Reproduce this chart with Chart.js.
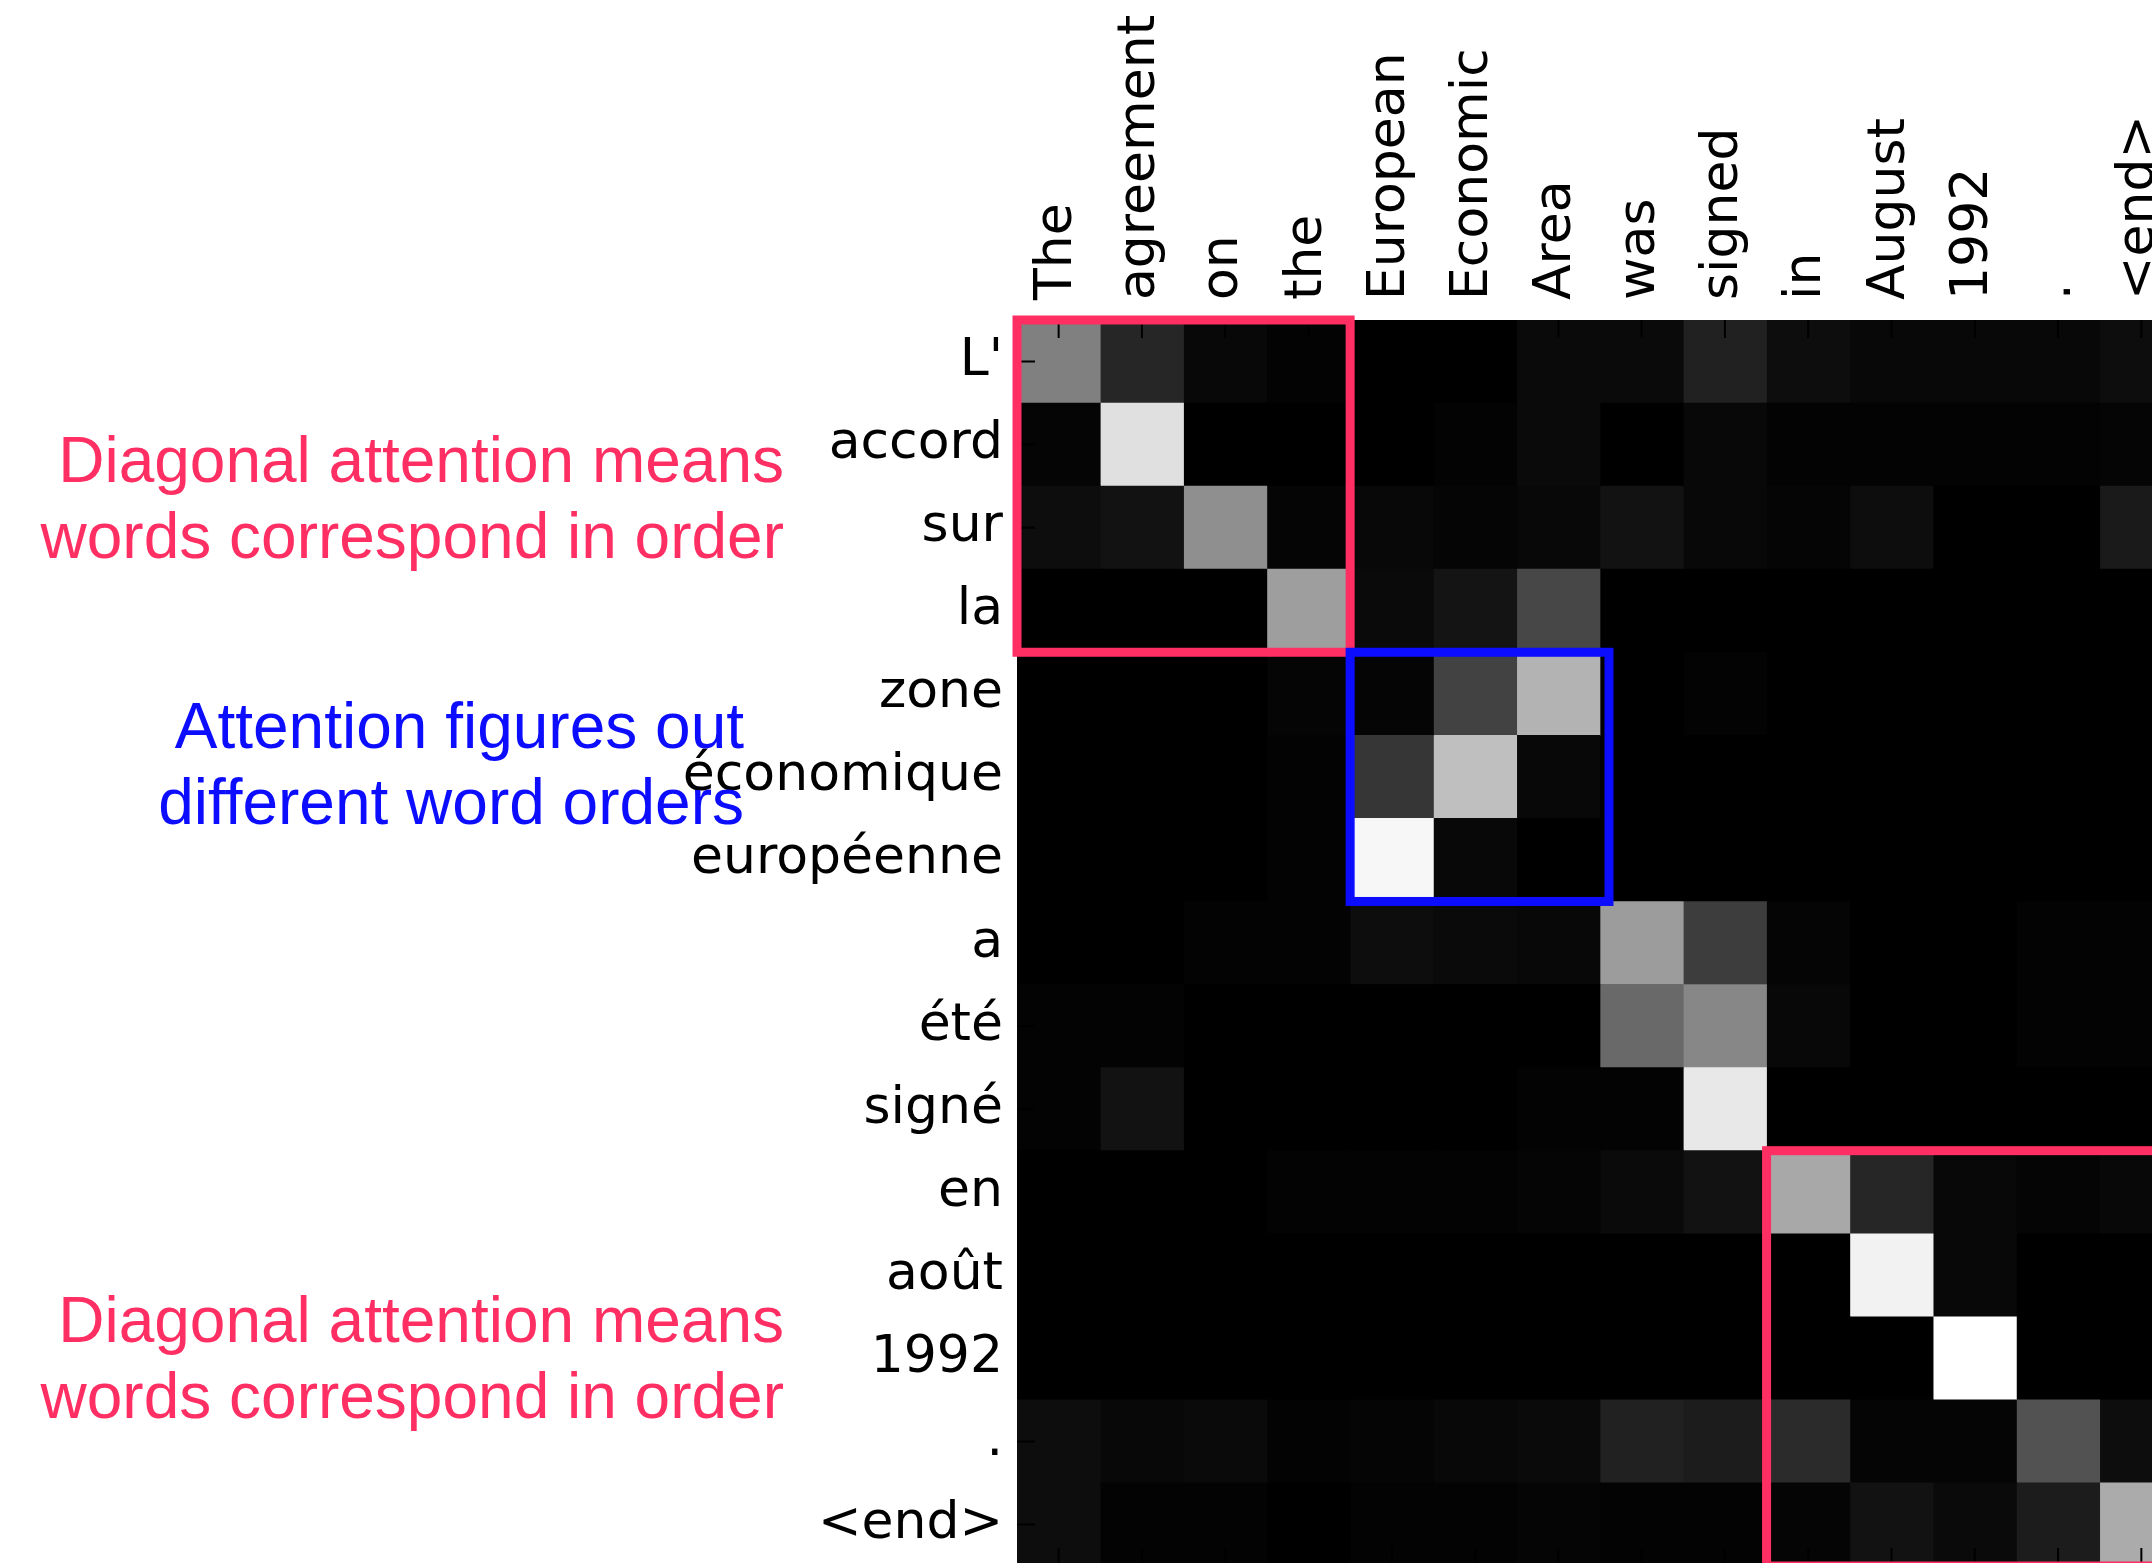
<!DOCTYPE html>
<html>
<head>
<meta charset="utf-8">
<title>Attention alignment</title>
<script src="https://cdn.jsdelivr.net/npm/chart.js@4.4.0/dist/chart.umd.min.js"></script>
<style>
    html, body { margin: 0; padding: 0; background: #fff; overflow: hidden; }
    #wrap { position: absolute; left: 0; top: 0; width: 2200px; height: 1580px; }
</style>
</head>
<body>
<div id="wrap"><canvas id="attnChart" width="2200" height="1580"></canvas></div>
<script>
/**
 * MATRIZ DE ATENCIÓN (EN -> FR)
 * Cada celda es un segmento de barra horizontal apilada: filas = palabras
 * francesas, columnas = palabras inglesas, gris = peso de atención.
 */

// --- 1. DATOS ---
const sourceWords = ['The', 'agreement', 'on', 'the', 'European', 'Economic', 'Area',
    'was', 'signed', 'in', 'August', '1992', '.', '<end>'];
const targetWords = ["L'", 'accord', 'sur', 'la', 'zone', 'économique', 'européenne',
    'a', 'été', 'signé', 'en', 'août', '1992', '.', '<end>'];

// pesos (0 = negro, 1 = blanco), una fila por palabra destino
const attention = [
    [0.50, 0.15, 0.03, 0.01, 0.00, 0.00, 0.04, 0.04, 0.13, 0.05, 0.03, 0.03, 0.03, 0.05], // L'
    [0.02, 0.88, 0.00, 0.00, 0.00, 0.01, 0.04, 0.00, 0.03, 0.01, 0.01, 0.01, 0.01, 0.02], // accord
    [0.05, 0.07, 0.56, 0.02, 0.03, 0.02, 0.03, 0.07, 0.03, 0.02, 0.05, 0.00, 0.00, 0.10], // sur
    [0.00, 0.00, 0.00, 0.62, 0.04, 0.08, 0.28, 0.00, 0.00, 0.00, 0.00, 0.00, 0.00, 0.00], // la
    [0.00, 0.00, 0.00, 0.02, 0.02, 0.26, 0.70, 0.00, 0.01, 0.00, 0.00, 0.00, 0.00, 0.00], // zone
    [0.00, 0.00, 0.00, 0.01, 0.21, 0.75, 0.03, 0.00, 0.00, 0.00, 0.00, 0.00, 0.00, 0.00], // économique
    [0.00, 0.00, 0.00, 0.01, 0.97, 0.03, 0.00, 0.00, 0.00, 0.00, 0.00, 0.00, 0.00, 0.00], // européenne
    [0.00, 0.00, 0.01, 0.01, 0.05, 0.04, 0.03, 0.61, 0.24, 0.02, 0.00, 0.00, 0.01, 0.01], // a
    [0.01, 0.01, 0.00, 0.00, 0.00, 0.00, 0.00, 0.41, 0.53, 0.03, 0.00, 0.00, 0.01, 0.01], // été
    [0.01, 0.07, 0.00, 0.00, 0.00, 0.00, 0.01, 0.01, 0.91, 0.00, 0.00, 0.00, 0.00, 0.00], // signé
    [0.00, 0.00, 0.00, 0.01, 0.01, 0.01, 0.02, 0.04, 0.07, 0.66, 0.15, 0.03, 0.02, 0.03], // en
    [0.00, 0.00, 0.00, 0.00, 0.00, 0.00, 0.00, 0.00, 0.00, 0.00, 0.95, 0.03, 0.00, 0.00], // août
    [0.00, 0.00, 0.00, 0.00, 0.00, 0.00, 0.00, 0.00, 0.00, 0.00, 0.00, 1.00, 0.00, 0.00], // 1992
    [0.05, 0.03, 0.04, 0.01, 0.02, 0.03, 0.04, 0.13, 0.11, 0.17, 0.02, 0.02, 0.32, 0.05], // .
    [0.05, 0.01, 0.01, 0.00, 0.01, 0.01, 0.02, 0.01, 0.01, 0.02, 0.07, 0.04, 0.11, 0.67]  // <end>
];

// recuadros de anotación: columnas [c0, c1), filas [r0, r1)
const boxes = [
    { c0: 0, c1: 4, r0: 0, r1: 4, color: '#ff2f64' },
    { c0: 4, c1: 7, r0: 4, r1: 7, color: '#0c0cff', extraRight: 9 },
    { c0: 9, c1: 14, r0: 10, r1: 15, color: '#ff2f64' }
];

const notes = [
    { lines: ['Diagonal attention means', 'words correspond in order'], color: '#ff2f64', x: 784, y: 482 },
    { lines: ['Attention figures out', 'different word orders'], color: '#0c0cff', x: 744, y: 748 },
    { lines: ['Diagonal attention means', 'words correspond in order'], color: '#ff2f64', x: 784, y: 1342 }
];

// --- 2. UTILIDADES ---
const gray = v => {
    const g = Math.round(Math.max(0, Math.min(1, v)) * 255);
    return `rgb(${g}, ${g}, ${g})`;
};

const LABEL_FONT = "'DejaVu Sans', 'Bitstream Vera Sans', sans-serif";

// --- 3. PLUGIN: fondo negro, marcas internas, recuadros y textos ---
const overlayPlugin = {
    id: 'overlay',
    beforeDatasetsDraw(chart) {
        const { ctx, chartArea: a } = chart;
        ctx.save();
        ctx.fillStyle = '#000';
        ctx.fillRect(a.left, a.top, a.right - a.left, a.bottom - a.top);
        ctx.restore();
    },
    afterDatasetsDraw(chart) {
        const { ctx, chartArea: a } = chart;
        const xs = chart.scales.x, ys = chart.scales.y;

        // marcas de eje hacia dentro (estilo matplotlib)
        ctx.save();
        ctx.strokeStyle = '#000';
        ctx.lineWidth = 2;
        ctx.beginPath();
        sourceWords.forEach((w, i) => {
            const px = xs.getPixelForValue(i + 0.5);
            ctx.moveTo(px, a.top); ctx.lineTo(px, a.top + 18);
            ctx.moveTo(px, a.bottom); ctx.lineTo(px, a.bottom - 18);
        });
        targetWords.forEach((w, i) => {
            const py = ys.getPixelForValue(i);
            ctx.moveTo(a.left, py); ctx.lineTo(a.left + 18, py);
        });
        ctx.stroke();

        // recuadros
        ctx.lineWidth = 9;
        boxes.forEach(b => {
            const x0 = xs.getPixelForValue(b.c0);
            const x1 = xs.getPixelForValue(b.c1) + (b.extraRight || 0);
            const y0 = ys.getPixelForValue(b.r0 - 0.5);
            const y1 = ys.getPixelForValue(b.r1 - 0.5);
            ctx.strokeStyle = b.color;
            ctx.strokeRect(x0, y0, x1 - x0, y1 - y0);
        });

        // textos explicativos
        ctx.font = "64px 'Liberation Sans', Arial, sans-serif";
        ctx.textAlign = 'right';
        ctx.textBaseline = 'alphabetic';
        notes.forEach(n => {
            ctx.fillStyle = n.color;
            n.lines.forEach((t, k) => ctx.fillText(t, n.x, n.y + k * 76));
        });
        ctx.restore();
    }
};

// --- 4. DATASETS: una serie por palabra origen ---
const datasets = sourceWords.map((w, j) => ({
    label: w,
    data: targetWords.map(() => 1),
    backgroundColor: targetWords.map((t, i) => gray(attention[i][j])),
    borderWidth: 0,
    barPercentage: 1,
    categoryPercentage: 1
}));

// sin márgenes extra por las etiquetas extremas: el área queda fija
const noLabelPadding = s => {
    s.paddingTop = 0; s.paddingBottom = 0;
    s.paddingLeft = 0; s.paddingRight = 0;
};

// --- 5. GRÁFICO ---
new Chart(document.getElementById('attnChart'), {
    type: 'bar',
    data: { labels: targetWords, datasets },
    options: {
        indexAxis: 'y',
        responsive: false,
        animation: false,
        layout: { padding: { left: 0, top: 0, right: 17, bottom: 14 } },
        plugins: { legend: { display: false }, tooltip: { enabled: false } },
        scales: {
            x: {
                type: 'linear',
                position: 'top',
                stacked: true,
                min: 0,
                max: sourceWords.length,
                grid: { display: false, drawTicks: false },
                border: { display: false },
                afterBuildTicks: s => { s.ticks = sourceWords.map((w, i) => ({ value: i + 0.5 })); },
                afterFit: s => { s.height = 320; noLabelPadding(s); },
                ticks: {
                    autoSkip: false,
                    minRotation: 90,
                    maxRotation: 90,
                    padding: 20,
                    labelOffset: 61,
                    color: '#000',
                    font: { family: LABEL_FONT, size: 52 },
                    callback: (v, i) => sourceWords[i]
                }
            },
            y: {
                stacked: true,
                grid: { display: false, drawTicks: false },
                border: { display: false },
                afterFit: s => { s.width = 1017; noLabelPadding(s); },
                ticks: {
                    autoSkip: false,
                    padding: 14,
                    color: '#000',
                    font: { family: LABEL_FONT, size: 52 }
                }
            }
        }
    },
    plugins: [overlayPlugin]
});
</script>
</body>
</html>
